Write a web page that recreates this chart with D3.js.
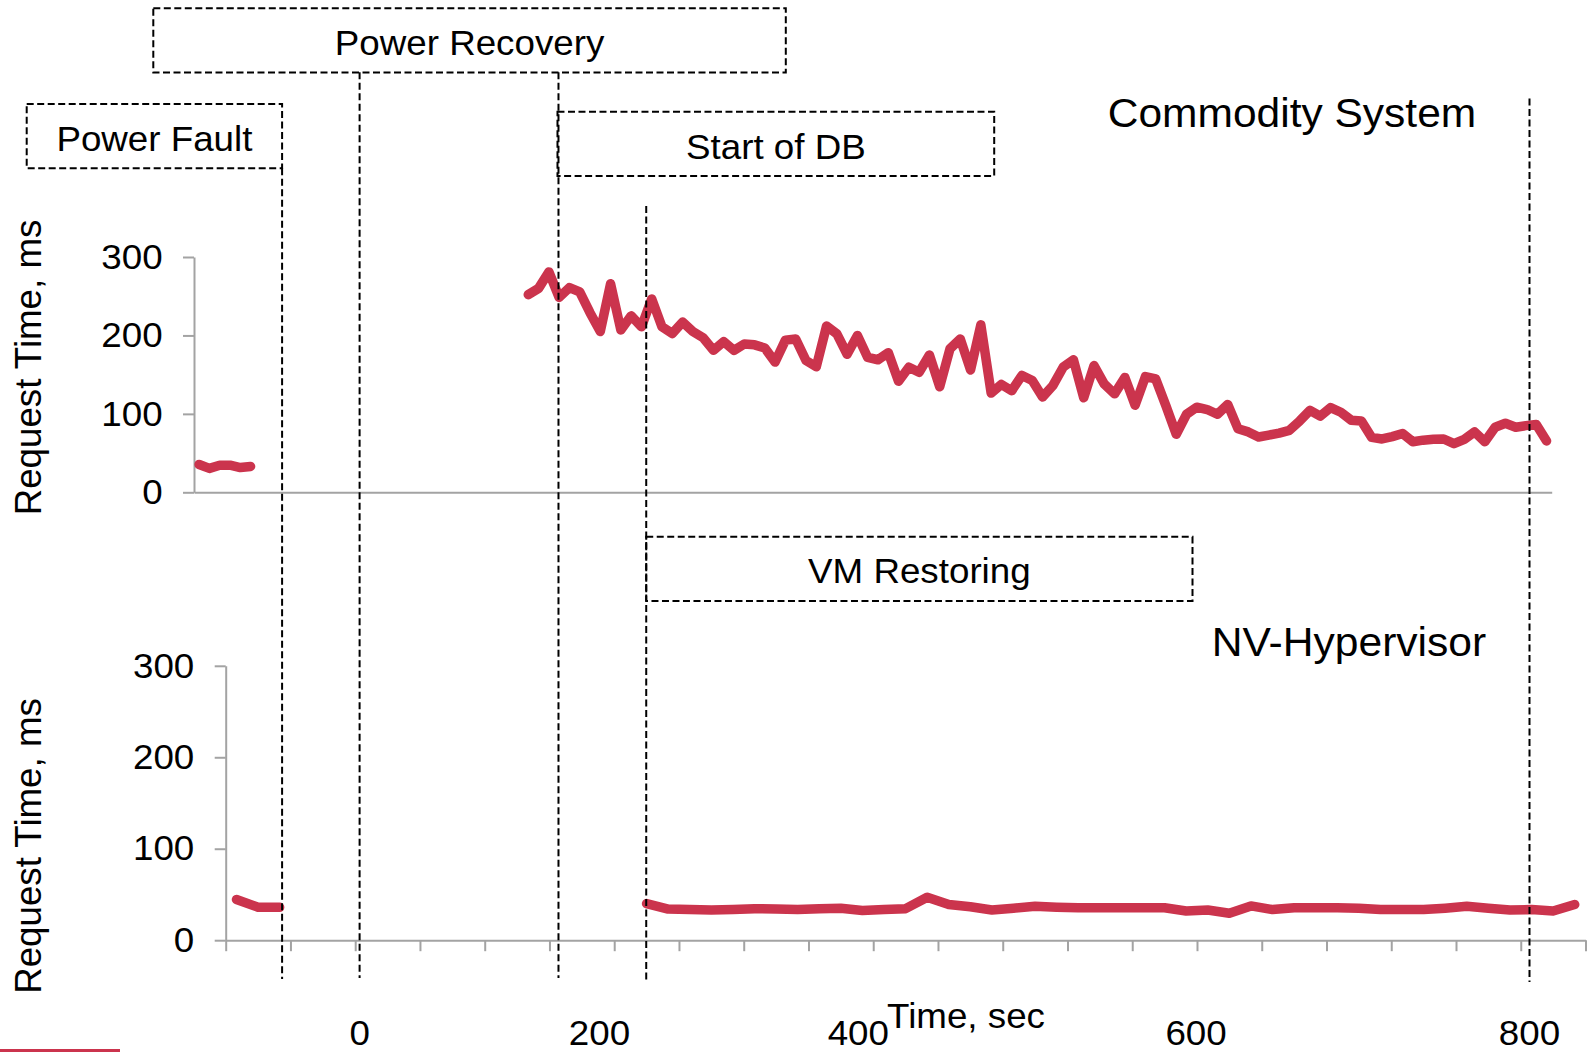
<!DOCTYPE html>
<html><head><meta charset="utf-8">
<script src="https://cdn.jsdelivr.net/npm/d3@7"></script>
<style>
html,body{margin:0;padding:0;background:#fff;}
svg{display:block;}
text{font-family:"Liberation Sans",Arial,Helvetica,sans-serif;fill:#000;}
</style></head><body>
<svg id="chart" width="1594" height="1052"></svg>
<script>
// ---------------- data ----------------
const yTicks = [0, 100, 200, 300];
// Commodity system: request time (ms) per sample, null = no response
const commodityMs = [
  35.5, 30.5, 34.5, 34.5, 31.5, 33,
  null, null, null, null, null, null, null, null, null, null, null, null, null,
  null, null, null, null, null, null, null, null, null, null, null, null, null,
  252, 260, 281, 248.5, 261, 255.5, 229, 205, 266, 207,
  225, 211, 246.5, 211, 202.5, 217, 205, 197, 181, 192,
  181, 189, 188, 184, 166, 194, 195.5, 168, 160, 212,
  202, 176, 200, 172, 169, 178, 141.5, 159.5, 153, 175,
  134.5, 183, 195.5, 156, 213.5, 126.5, 137.5, 129.5, 149, 142.5,
  121.5, 136, 159.5, 169, 120.5, 161.5, 138, 125.5, 146.5, 111,
  147.5, 144.5, 110, 74, 99.5, 108.5, 105.5, 99.5, 112, 81,
  77, 70.5, 73, 75.5, 79, 91, 104.5, 97, 108, 102,
  92, 91, 70, 68, 71, 75, 64.5, 66.5, 67.5, 68,
  62, 67.5, 77, 64.5, 83, 88, 83, 85, 86.5, 65.5
];
// NV-Hypervisor: request time (ms) per sample, null = no response
const nvhMs = [
  44.5, 36, 36,
  null, null, null, null, null, null, null, null, null, null, null, null, null, null, null, null,
  40, 34, 33.5, 33, 33.5, 34.5, 34, 33.5, 34.5, 35,
  32.5, 33.5, 34.5, 47, 39, 36.5, 33, 35, 37, 36,
  35.5, 35.5, 35.5, 35.5, 35.5, 32, 33, 29.5, 37.5, 33.5,
  35.5, 35.5, 35.5, 35, 33.5, 33.5, 33.5, 35, 37, 35,
  33, 33.5, 32, 39
];
const markerNames = ["Power Fault", "Power Recovery", "Start of DB", "VM Restoring", "End"];
const markerTimes = [-53, 0, 136, 196, 800];           // seconds
const xTickLabels = ["0", "200", "400", "600", "800"];
const xTickLabelAt = [0, 164, 341, 572, 800];           // seconds where each label sits

// ---------------- layout ----------------
const RED = "#cb344d", GRAY = "#a3a3a3", SX = 1.05;
const svg = d3.select("#chart");

const xTop = d3.scaleLinear().domain([0, commodityMs.length]).range([194, 1551.7]);
const yTop = d3.scaleLinear().domain([0, 300]).range([492.3, 257]);
const xBot = d3.scaleLinear().domain([0, nvhMs.length]).range([225.7, 1585.5]);
const yBot = d3.scaleLinear().domain([0, 300]).range([940.2, 665.8]);
const xTime = d3.scaleLinear().domain([0, 800]).range([359.6, 1529.5]);

function styleAxis(g) {
  g.selectAll("path.domain").attr("stroke", GRAY).attr("stroke-width", 2);
  g.selectAll(".tick line").attr("stroke", GRAY).attr("stroke-width", 2);
}
function yAxis(y, x0) {
  const g = svg.append("g").attr("transform", `translate(${x0},0)`)
    .call(d3.axisLeft(y).tickValues(yTicks).tickSize(11).tickPadding(20).tickSizeOuter(0));
  styleAxis(g);
  g.selectAll(".tick text")
    .attr("font-family", '"Liberation Sans",Arial,sans-serif')
    .attr("font-size", 35).attr("fill", "#000")
    .attr("x", -31.4 / SX).attr("transform", `scale(${SX},1)`);
  return g;
}

// top panel axes
yAxis(yTop, xTop.range()[0]);
styleAxis(svg.append("g").attr("transform", `translate(0,${yTop(0)})`)
  .call(d3.axisBottom(xTop).tickValues([]).tickSizeOuter(0)));

// bottom panel axes
yAxis(yBot, xBot.range()[0]);
const bx = svg.append("g").attr("transform", `translate(0,${yBot(0)})`)
  .call(d3.axisBottom(xBot).tickValues(d3.range(0, nvhMs.length + 1, 3))
    .tickFormat("").tickSize(11).tickSizeOuter(0));
styleAxis(bx);

// data lines
const lineTop = d3.line().defined(d => d != null)
  .x((d, i) => xTop(i + 0.5)).y(d => yTop(d));
const lineBot = d3.line().defined(d => d != null)
  .x((d, i) => xBot(i + 0.5)).y(d => yBot(d));
svg.append("path").datum(commodityMs).attr("d", lineTop)
  .attr("fill", "none").attr("stroke", RED).attr("stroke-width", 9.5)
  .attr("stroke-linejoin", "round").attr("stroke-linecap", "round");
svg.append("path").datum(nvhMs).attr("d", lineBot)
  .attr("fill", "none").attr("stroke", RED).attr("stroke-width", 9.5)
  .attr("stroke-linejoin", "round").attr("stroke-linecap", "round");

// event marker lines (dashed)
const markerSpan = [[168.3, 979], [72.3, 978], [72.3, 978], [206, 983], [98.6, 982]];
svg.append("g").selectAll("line").data(markerTimes).join("line")
  .attr("x1", d => xTime(d)).attr("x2", d => xTime(d))
  .attr("y1", (d, i) => markerSpan[i][0]).attr("y2", (d, i) => markerSpan[i][1])
  .attr("stroke", "#000").attr("stroke-width", 2).attr("stroke-dasharray", "7,3.5");

// annotation boxes
const boxes = [
  {label: markerNames[1], x0: 153.3, x1: 785.8, y0: 8.3},
  {label: markerNames[0], x0: 26.7, x1: xTime(markerTimes[0]), y0: 104},
  {label: markerNames[2], x0: xTime(markerTimes[2]) - 1, x1: 994.2, y0: 111.8},
  {label: markerNames[3], x0: xTime(markerTimes[3]), x1: 1192.5, y0: 536.7}
];
const bg = svg.append("g").selectAll("g").data(boxes).join("g");
bg.append("rect")
  .attr("x", d => d.x0).attr("y", d => d.y0)
  .attr("width", d => d.x1 - d.x0).attr("height", 64.2)
  .attr("fill", "none").attr("stroke", "#000").attr("stroke-width", 2)
  .attr("stroke-dasharray", "7,3.5");
bg.append("text")
  .attr("transform", d => `translate(${(d.x0 + d.x1) / 2},${d.y0 + 46.7}) scale(${SX},1)`)
  .attr("text-anchor", "middle").attr("font-size", 35)
  .text(d => d.label);

// panel titles
svg.append("text").attr("transform", `translate(1292,127) scale(${SX},1)`)
  .attr("text-anchor", "middle").attr("font-size", 42.5 / SX).text("Commodity System");
svg.append("text").attr("transform", `translate(1349,656) scale(${SX},1)`)
  .attr("text-anchor", "middle").attr("font-size", 42.6 / SX).text("NV-Hypervisor");

// y axis titles
[[41, 367.5], [41, 846]].forEach(([x, y]) => {
  svg.append("text").attr("transform", `translate(${x},${y}) rotate(-90)`)
    .attr("text-anchor", "middle").attr("font-size", 36.7).text("Request Time, ms");
});

// x labels
svg.append("g").selectAll("text").data(xTickLabels).join("text")
  .attr("transform", (d, i) => `translate(${xTime(xTickLabelAt[i])},1045) scale(${SX},1)`)
  .attr("text-anchor", "middle").attr("font-size", 35).text(d => d);
svg.append("text").attr("transform", `translate(966,1028) scale(${SX},1)`)
  .attr("text-anchor", "middle").attr("font-size", 35).text("Time, sec");

// slide accent strip at bottom-left
svg.append("rect").attr("x", 0).attr("y", 1049).attr("width", 120).attr("height", 3).attr("fill", RED);
</script>
</body></html>
